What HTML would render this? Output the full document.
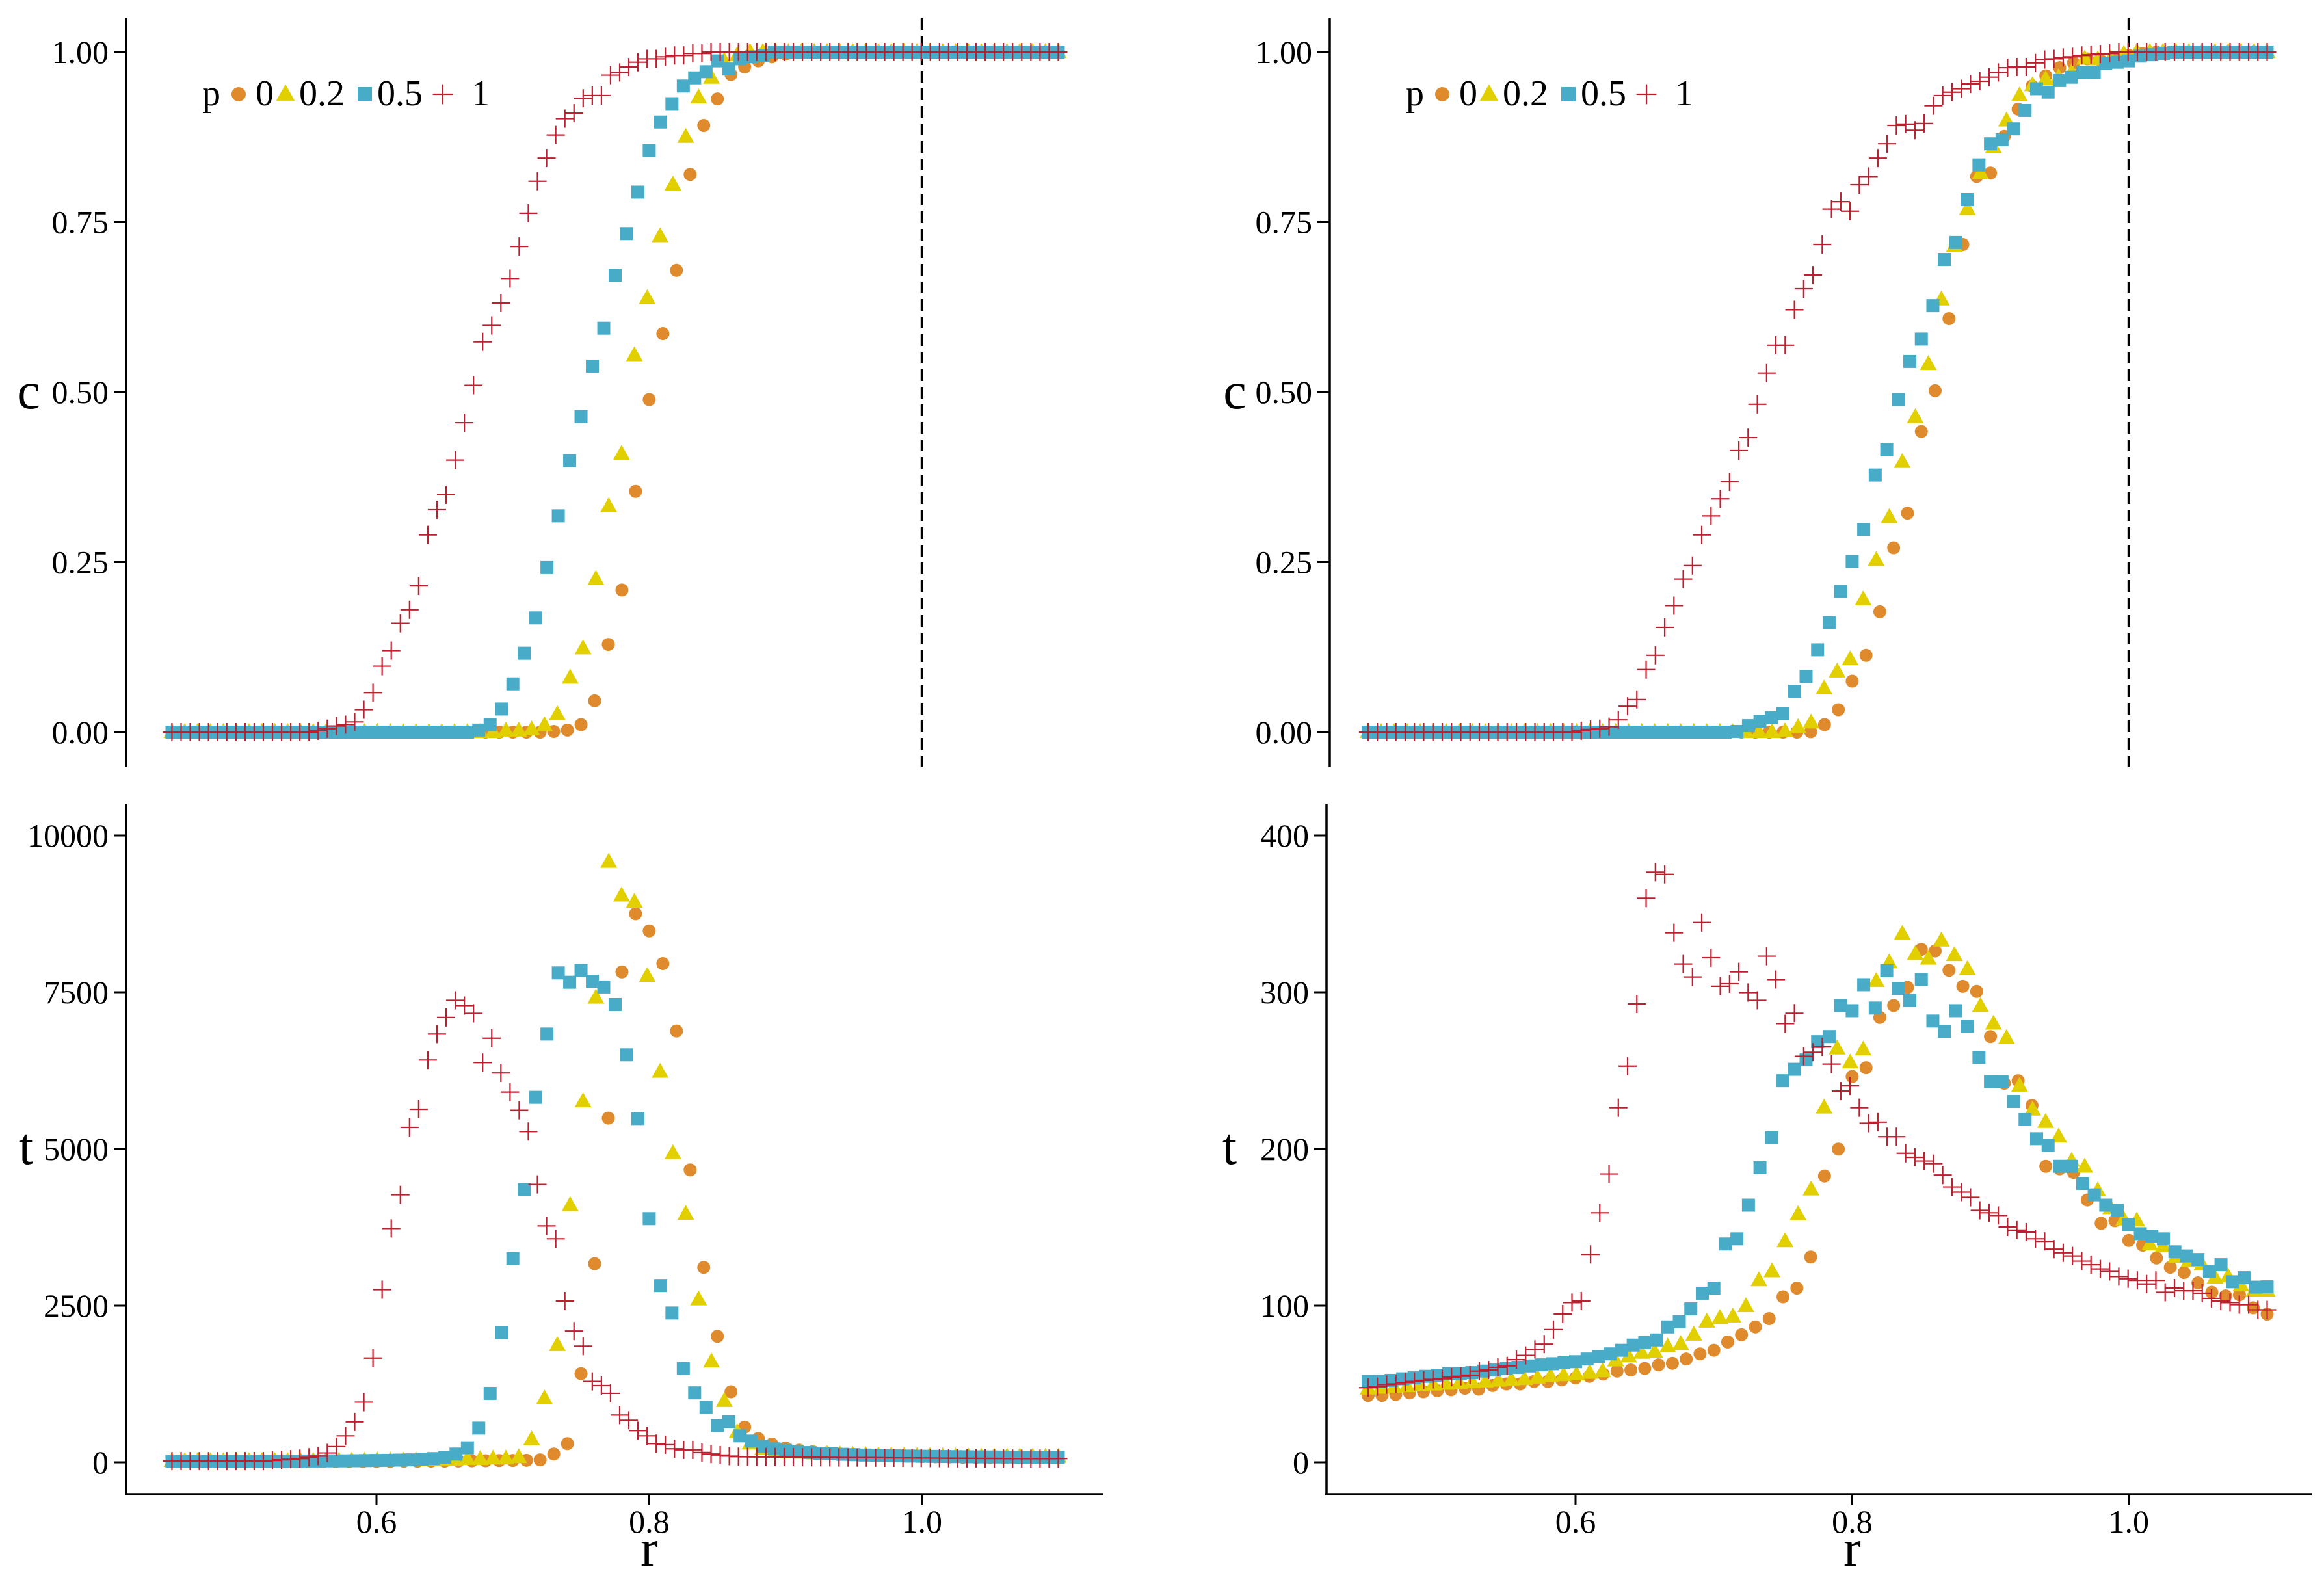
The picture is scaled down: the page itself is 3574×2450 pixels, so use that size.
<!DOCTYPE html>
<html><head><meta charset="utf-8"><title>c and t versus r for four values of p</title>
<style>
html,body{margin:0;padding:0;background:#fff;}
svg{display:block;font-family:"Liberation Serif",serif;}
</style></head>
<body>
<svg id="chart" width="3574" height="2450" viewBox="0 0 3574 2450" xmlns="http://www.w3.org/2000/svg"></svg>
<script>
// ---- data ----
const nO = 66, nY = 70, nB = 79, nR = 98;
const pLabels = ["0", "0.2", "0.5", "1"];
const xTicks = [0.6, 0.8, 1.0];
const cTicks = [0, 0.25, 0.5, 0.75, 1.0];
const cTickLabels = ["0.00", "0.25", "0.50", "0.75", "1.00"];
const tTicksL = [0, 2500, 5000, 7500, 10000];
const tTicksR = [0, 100, 200, 300, 400];

// top-left c
const cL_o = [0,0,0,0,0,0,0,0,0,0,0,0,0,0,0,0,0,0,0,0,0,0,0,0,0,0,0,0,
 0.001,0.003,0.011,0.046,0.129,0.209,0.354,0.489,0.586,0.679,0.82,0.892,0.931,0.967,0.978,0.987,0.993,0.997,
 1,1,1,1,1,1,1,1,1,1,1,1,1,1,1,1,1,1,1,1];
const cL_y = [0,0,0,0,0,0,0,0,0,0,0,0,0,0,0,0,0,0,0,0,0,0,0,0,0,0,
 0.002,0.002,0.004,0.01,0.026,0.08,0.123,0.225,0.332,0.409,0.554,0.638,0.729,0.805,0.875,0.933,0.962,0.987,0.995,
 1,1,1,1,1,1,1,1,1,1,1,1,1,1,1,1,1,1,1,1,1,1,1,1,1];
const cL_b = [0,0,0,0,0,0,0,0,0,0,0,0,0,0,0,0,0,0,0,0,0,0,0,0,0,0,0,
 0.003,0.011,0.034,0.071,0.116,0.168,0.242,0.318,0.399,0.464,0.538,0.594,0.672,0.733,0.794,0.855,0.897,0.924,0.95,0.962,0.971,0.987,0.975,0.99,0.993,0.995,
 1,1,1,1,1,1,1,1,1,1,1,1,1,1,1,1,1,1,1,1,1,1,1,1,1,1];
const cL_r = [0,0,0,0,0,0,0,0,0,0,0,0,0,0,0,0,
 0.002,0.005,0.009,0.011,0.015,0.033,0.058,0.097,0.12,0.16,0.18,0.215,0.29,0.327,0.349,0.40,0.455,0.51,0.574,0.598,0.631,0.667,0.714,0.763,0.81,0.844,0.878,0.902,0.91,0.932,0.936,0.936,0.966,0.97,0.978,0.985,0.99,0.99,0.993,0.995,0.995,0.998,0.998,
 1,1,1,1,1,1,1,1,1,1,1,1,1,1,1,1,1,1,1,1,1,1,1,1,1,1,1,1,1,1,1,1,1,1,1,1,1,1,1];

// top-right c
const cR_o = [0,0,0,0,0,0,0,0,0,0,0,0,0,0,0,0,0,0,0,0,0,0,0,0,0,0,0,0,0,0,0,0,
 0.0006,0.011,0.033,0.075,0.113,0.177,0.271,0.322,0.442,0.502,0.608,0.717,0.817,0.822,0.876,0.916,0.95,0.965,0.977,0.984,0.99,0.987,0.99,0.995,0.998,
 1,1,1,1,1,1,1,1,1];
const cR_y = [0,0,0,0,0,0,0,0,0,0,0,0,0,0,0,0,0,0,0,0,0,0,0,0,0,0,0,0,0,0,0,0,
 0.001,0.007,0.014,0.064,0.089,0.107,0.195,0.253,0.316,0.397,0.463,0.541,0.636,0.715,0.769,0.822,0.86,0.899,0.936,0.951,0.96,0.963,0.97,0.99,0.989,0.99,0.997,
 1,1,1,1,1,1,1,1,1,1,1];
const cR_b = [0,0,0,0,0,0,0,0,0,0,0,0,0,0,0,0,0,0,0,0,0,0,0,0,0,0,0,0,0,0,0,0,
 0.001,0.0095,0.016,0.021,0.027,0.06,0.082,0.121,0.161,0.207,0.251,0.298,0.378,0.415,0.489,0.545,0.578,0.627,0.695,0.72,0.783,0.834,0.865,0.871,0.887,0.914,0.946,0.941,0.958,0.963,0.97,0.97,0.983,0.985,0.987,0.994,0.996,0.998,
 1,1,1,1,1,1,1,1,1];
const cR_r = [0,0,0,0,0,0,0,0,0,0,0,0,0,0,0,0,0,0,0,0,0,0,0,
 0.002,0.004,0.005,0.008,0.018,0.038,0.048,0.092,0.113,0.154,0.186,0.225,0.245,0.29,0.318,0.343,0.368,0.414,0.433,0.482,0.528,0.569,0.569,0.621,0.652,0.672,0.717,0.769,0.78,0.766,0.805,0.817,0.844,0.865,0.892,0.894,0.885,0.895,0.921,0.936,0.941,0.946,0.953,0.957,0.963,0.97,0.977,0.978,0.978,0.984,0.989,0.99,0.992,0.993,0.995,0.996,0.997,0.998,
 1,1,1,1,1,1,1,1,1,1,1,1,1,1,1,1,1];

// bottom-left t
const tL_o = [10,10,10,10,10,10,10,10,10,10,12,12,12,14,14,16,16,18,18,20,20,22,24,26,28,30,
 33,40,132,298,1414,3168,5492,7824,8751,8478,7957,6881,4665,3110,2010,1125,562,380,290,230,
 195,170,150,135,125,115,108,102,97,92,88,85,82,80,78,76,74,72,71,70];
const tL_y = [20,20,20,20,20,20,20,20,20,20,22,22,24,24,26,26,28,30,30,32,34,36,40,
 50,50,60,60,80,364,1017,1869,4102,5757,7411,9578,9040,8941,7758,6228,4930,3962,2597,1605,976,480,298,215,180,
 160,150,140,132,126,120,115,110,106,103,100,98,96,94,92,91,90,89,88,87,86,85];
const tL_b = [20,20,20,20,20,20,20,20,20,20,20,20,22,22,24,24,26,28,30,32,36,40,50,60,80,
 132,232,546,1100,2068,3250,4350,5823,6832,7808,7659,7849,7675,7584,7303,6501,5484,3887,2820,2382,1497,1108,877,587,645,
 422,339,256,215,190,170,155,145,135,128,122,116,111,107,103,100,97,95,93,91,89,87,86,85,84,83,82,81,80];
const tL_r = [20,20,20,20,20,20,20,20,20,20,20,30,40,50,60,80,100,150,250,
 422,645,960,1662,2754,3730,4268,5343,5633,6418,6832,7097,7370,7287,7163,6377,6766,6212,5906,5616,5277,4433,3772,3565,2572,2093,1853,1290,1224,1100,753,670,505,422,298,281,215,199,199,157,132,116,99,91,
 88,87,86,85,84,83,82,81,80,79,78,77,76,75,74,73,72,71,70,69,68,67,66,65,64,63,62,62,61,61,60,60,60,60,60];

// bottom-right t
const tR_o = [42.7,42.7,43.3,44.3,45,45.7,46.3,47.3,46.7,49,50,50,51.6,51.6,52.6,53.9,54.9,56.3,58.2,58.9,
 59.9,62.2,63.2,65.9,69.2,71.5,76.8,81.4,86.4,91.7,105.6,111.2,131,182.7,199.9,246.2,251.8,283.9,291.5,303.1,
 327.3,326.3,314,303.8,300.5,271.7,241.9,243.5,227.7,188.9,187.3,185,167.4,152.5,154.2,141.6,138.6,130.4,124.4,121.1,
 114.5,108.5,106.2,106.9,98.6,94.6];
const tR_y = [47,47.5,48,48.5,49,49.5,50,50.5,51,51.5,52,52.5,53,54,55,55.5,56,57,58,
 64.9,67.5,69.8,70.5,73.8,75.4,81.4,89.7,92,93,99.6,116.1,121.8,141,158.2,174,226.3,264,255.1,263.4,
 307.1,319,337.2,324.3,321.3,332.9,323.6,314.7,291.2,279.9,270.7,240.2,225,217.1,207.8,192.3,188.6,173.4,162.1,154.9,
 154.2,139,137.7,131,128.4,126.1,117.8,118.5,112.8,109.5,109.5];
const tR_b = [51.6,51.6,52.3,53.3,53.9,54.9,55.6,56.6,56.6,57.2,58.2,58.9,59.9,60.6,61.5,62.2,62.9,63.5,64.2,65.9,
 67.5,69.2,71.5,74.8,76.4,78.1,86.4,89.7,97.9,107.9,111.2,139.3,142.6,164.1,188,207.1,243.5,250.8,256.8,268.4,
 271.7,291.5,288.2,304.8,289.9,313.7,302.4,294.8,308.1,281.6,275,288.2,278.3,258.4,242.9,242.9,230.3,218.7,206.5,202.2,
 188.9,188.9,178,170.7,164.1,160.8,151.6,145.9,144.3,142.6,134.3,131.7,129.4,121.8,126.1,115.2,117.8,111.8,112];
const tR_r = [47.6,48.3,49.6,50,51,51.6,52.3,52.9,53.3,54.3,54.9,55.6,58.2,58.9,60.6,61.5,65.5,68.2,72.1,75.4,
 84.7,94.6,101.9,102.9,132.7,159.2,184,226.3,252.8,292.5,360,376.6,375.2,337.9,318,309.7,344.5,322,303.8,305.4,
 313,299.8,294.8,323,308.1,279.9,286.6,259.1,261.7,265.1,254.1,236.9,240.2,226.3,216.4,217.1,207.8,207.8,197.2,194.6,
 192.3,190.6,183.3,175.7,172.4,169.1,160.8,159.2,157.5,150.2,148.2,146.9,142.6,141,136,133.7,131.7,128.4,126.1,123.4,
 121.8,118.5,117.1,116.1,113.8,116.1,108.5,111.2,109.5,109.5,107.9,104.6,102.9,101.9,100.6,100.6,97.3,97.3];

// ---- drawing ----
const NS = "http://www.w3.org/2000/svg";
const svg = document.getElementById("chart");
const COL = {o:"#DF8B2D", y:"#E2CF00", b:"#48ACC9", r:"#BE1E2D"};

function mk(tag, attrs, parent){
  const e = document.createElementNS(NS, tag);
  for (const k in attrs) e.setAttribute(k, attrs[k]);
  (parent||svg).appendChild(e);
  return e;
}
function rGrid(n){ const a=[]; for(let i=0;i<n;i++) a.push(0.45 + i*0.65/(n-1)); return a; }

function marker(kind, cx, cy, parent, s){
  s = s || 1;
  let e;
  if (kind==="o") e = mk("circle",{cx:cx,cy:cy,r:10*s,fill:COL.o},parent);
  else if (kind==="y") e = mk("polygon",{points:(cx-13*s)+","+(cy+9*s)+" "+(cx+13*s)+","+(cy+9*s)+" "+cx+","+(cy-14*s),fill:COL.y},parent);
  else if (kind==="b") e = mk("rect",{x:cx-10*s,y:cy-10*s,width:20*s,height:20*s,fill:COL.b},parent);
  else e = mk("path",{d:"M"+(cx-14*s)+" "+cy+"H"+(cx+14*s)+"M"+cx+" "+(cy-14*s)+"V"+(cy+14*s),stroke:COL.r,"stroke-width":2.2,fill:"none"},parent);
  return e;
}

function panel(cfg){
  const g = mk("g",{});
  
  
  const X = r => cfg.x0 + (r-0.6)*cfg.xk;
  const Y = v => cfg.y0 - v*cfg.yk;
  const ya = mk("line",{x1:cfg.ax,y1:cfg.yTop,x2:cfg.ax,y2:cfg.yBot,stroke:"#000","stroke-width":3.5},g);
  
  
  cfg.yTicks.forEach((t,i)=>{
    const yy = Y(t);
    const tk = mk("line",{x1:cfg.ax-19,y1:yy,x2:cfg.ax,y2:yy,stroke:"#000","stroke-width":3},g);
    
    
    const tl = mk("text",{x:cfg.ax-27,y:yy+17,"text-anchor":"end","font-size":50,fill:"#000"},g);
    tl.textContent = cfg.yLabels[i];
    
    
  });
  const yt = mk("text",{x:cfg.ytX,y:cfg.ytY,"text-anchor":"middle","font-size":80,fill:"#000"},g);
  yt.textContent = cfg.yTitle;
  
  
  if (cfg.xAxis){
    const xa = mk("line",{x1:cfg.ax-2,y1:cfg.yBot,x2:cfg.xEnd,y2:cfg.yBot,stroke:"#000","stroke-width":3.5},g);
    
    
    xTicks.forEach(t=>{
      const xx = X(t);
      const tk = mk("line",{x1:xx,y1:cfg.yBot,x2:xx,y2:cfg.yBot+16,stroke:"#000","stroke-width":3},g);
      
      
      const tl = mk("text",{x:xx,y:2357,"text-anchor":"middle","font-size":50,fill:"#000"},g);
      tl.textContent = t.toFixed(1);
      
      
    });
    const xt = mk("text",{x:X(0.8),y:2408,"text-anchor":"middle","font-size":80,fill:"#000"},g);
    xt.textContent = "r";
    
    
  } else {
    const dl = mk("line",{x1:X(1.0),y1:28,x2:X(1.0),y2:1183,stroke:"#000","stroke-width":4,"stroke-dasharray":"18 9"},g);
    
    
    const lg = mk("g",{},g);
    
    
    const L = cfg.legX;
    const pt = mk("text",{x:L,y:162,"font-size":56,fill:"#000"},lg);
    pt.textContent = "p";
    
    
    const kinds = ["o","y","b","r"];
    const mx = [56,128,250,370];
    const tx = [82,149,269,414];
    kinds.forEach((k,i)=>{
      const m = marker(k, L+mx[i], 145, lg, 1.1);
      
      
      const t = mk("text",{x:L+tx[i],y:162,"font-size":56,fill:"#000"},lg);
      t.textContent = pLabels[i];
      
      
    });
  }
  const order = [["o",cfg.d.o],["y",cfg.d.y],["b",cfg.d.b],["r",cfg.d.r]];
  order.forEach(([k,vals])=>{
    const sg = mk("g",{},g);
    
    
    const rs = rGrid(vals.length);
    vals.forEach((v,i)=>{
      const m = marker(k, X(rs[i]), Y(v), sg);
      
      
    });
  });
}

panel({name:"panel-c-left", x0:579, xk:2097, ax:194, yTop:28, yBot:1180, y0:1126, yk:1046,
  yTicks:cTicks, yLabels:cTickLabels, yTitle:"c", ytX:44, ytY:628, xAxis:false, legX:311,
  d:{o:cL_o,y:cL_y,b:cL_b,r:cL_r}});
panel({name:"panel-c-right", x0:2423, xk:2127, ax:2045, yTop:28, yBot:1180, y0:1126, yk:1046,
  yTicks:cTicks, yLabels:cTickLabels, yTitle:"c", ytX:1899, ytY:628, xAxis:false, legX:2162,
  d:{o:cR_o,y:cR_y,b:cR_b,r:cR_r}});
panel({name:"panel-t-left", x0:579, xk:2097, ax:194, yTop:1236, yBot:2298, y0:2249, yk:0.0964,
  yTicks:tTicksL, yLabels:tTicksL.map(String), yTitle:"t", ytX:40, ytY:1790, xAxis:true, xEnd:1697,
  d:{o:tL_o,y:tL_y,b:tL_b,r:tL_r}});
panel({name:"panel-t-right", x0:2423, xk:2127, ax:2040, yTop:1236, yBot:2298, y0:2249, yk:2.41,
  yTicks:tTicksR, yLabels:tTicksR.map(String), yTitle:"t", ytX:1891, ytY:1790, xAxis:true, xEnd:3555,
  d:{o:tR_o,y:tR_y,b:tR_b,r:tR_r}});
</script>
</body></html>
